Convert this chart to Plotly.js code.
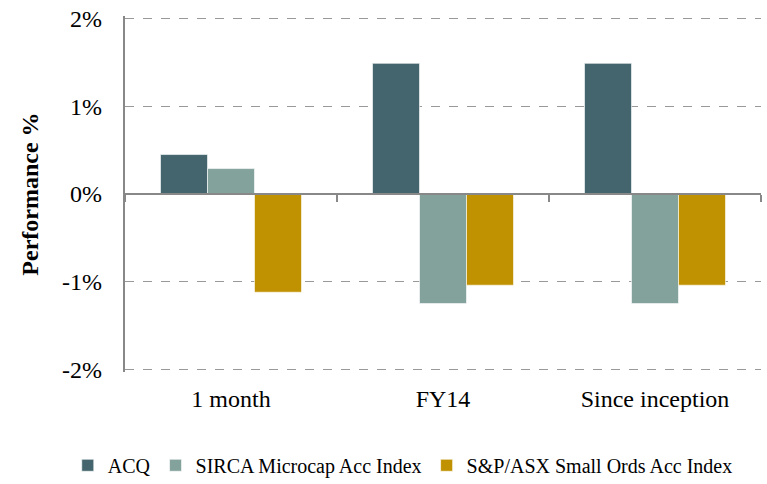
<!DOCTYPE html>
<html><head><meta charset="utf-8">
<script src="https://cdn.plot.ly/plotly-3.0.1.min.js"></script>
<style>html,body{margin:0;padding:0;background:#fff}#chart{width:767px;height:484px}</style>
</head><body><div id="chart"></div>
<script>
const categories = ["1 month", "FY14", "Since inception"];
const acq = [0.45, 1.49, 1.49];
const sirca = [0.29, -1.25, -1.25];
const smallOrds = [-1.12, -1.04, -1.04];
const seriesNames = ["ACQ", "SIRCA Microcap Acc Index", "S&P/ASX Small Ords Acc Index"];
const colors = ["#44656E", "#84A29C", "#C09100"];
const yTicks = [-2, -1, 0, 1, 2];
const yTickText = ["-2%", "-1%", "0%", "1%", "2%"];

const font = "Liberation Serif";
const mk = (name, vals, c) => ({
  type: "bar", name: name, x: categories, y: vals,
  marker: {color: c, line: {color: "rgba(255,255,255,0.6)", width: 1}},
  hoverinfo: "skip"
});
const traces = [
  mk(seriesNames[0], acq, colors[0]),
  mk(seriesNames[1], sirca, colors[1]),
  mk(seriesNames[2], smallOrds, colors[2]),
  {type: "scatter", mode: "none", x: categories, y: [0,0,0], xaxis: "x2", showlegend: false, hoverinfo: "skip"},
  {type: "scatter", mode: "none", x: categories, y: [0,0,0], yaxis: "y2", showlegend: false, hoverinfo: "skip"}
];
const ph = 484 - 16 - 112;
const pad = (ph - ph * 4 / 4.06) / 2 / ph;
const layout = {
  width: 767, height: 484,
  margin: {l: 125, r: 6, t: 16, b: 112, autoexpand: false},
  paper_bgcolor: "#fff", plot_bgcolor: "#fff",
  font: {family: font, color: "#000", size: 24},
  barmode: "group", bargap: 0.335, bargroupgap: 0,
  showlegend: true,
  legend: {orientation: "h", x: -0.09, xanchor: "left", y: -0.262, yanchor: "middle",
           font: {size: 20, family: font, color: "#000"}, itemwidth: 30, tracegroupgap: 0},
  xaxis: {type: "category", range: [-0.5, 2.5], showline: false, showgrid: false, zeroline: false,
          ticks: "", tickfont: {size: 24, family: font}, ticklabelstandoff: 10},
  xaxis2: {type: "category", overlaying: "x", anchor: "free", position: 0.5, range: [-0.5, 2.5],
           showline: true, linecolor: "#888", linewidth: 2, showgrid: false, zeroline: false,
           ticks: "outside", tickson: "boundaries", ticklen: 7, tickwidth: 2, tickcolor: "#888",
           showticklabels: false},
  yaxis: {range: [-2.03, 2.03], tickvals: yTicks, ticktext: yTickText, showline: false,
          showgrid: true, gridcolor: "#999", griddash: "dash", gridwidth: 1.5,
          zeroline: false, ticks: "", ticklabelstandoff: 22, tickfont: {size: 24, family: font},
          title: {text: "<b>Performance %</b>", font: {size: 24, family: font}, standoff: 16}},
  yaxis2: {overlaying: "y", range: [-2, 2], domain: [pad, 1 - pad], showgrid: false, zeroline: false,
           showticklabels: false, ticks: "", showline: true, linecolor: "#888", linewidth: 2}
};
Plotly.newPlot("chart", traces, layout, {displayModeBar: false, staticPlot: true});
</script></body></html>
